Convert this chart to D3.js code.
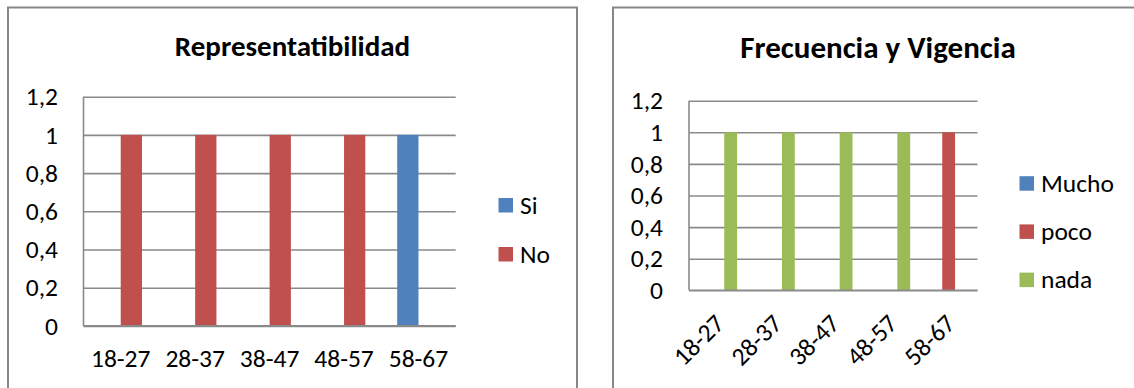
<!DOCTYPE html>
<html>
<head>
<meta charset="utf-8">
<script src="https://cdn.jsdelivr.net/npm/d3@7"></script>
<style>
  html, body { margin: 0; padding: 0; background: #fff; }
  svg { display: block; }
  text { font-family: Carlito, Lato, sans-serif; fill: #000; }
</style>
</head>
<body>
<svg id="chart" width="1134" height="388"></svg>
<script>
// Age groups shared by both charts
const categories = ["18-27", "28-37", "38-47", "48-57", "58-67"];

// Representatibilidad
const repSeries = ["Si", "No"];
const repSi = [0, 0, 0, 0, 1];
const repNo = [1, 1, 1, 1, 0];

// Frecuencia y Vigencia
const freqSeries = ["Mucho", "poco", "nada"];
const freqMucho = [0, 0, 0, 0, 0];
const freqPoco = [0, 0, 0, 0, 1];
const freqNada = [1, 1, 1, 1, 0];

// Value axis
const yTicks = [0, 0.2, 0.4, 0.6, 0.8, 1, 1.2];
const yTickLabels = ["0", "0,2", "0,4", "0,6", "0,8", "1", "1,2"];

const colors = ["#4F81BD", "#C0504D", "#9BBB59"];
const gridColor = "#8a8a8a";

const svg = d3.select("#chart");

function drawChart(cfg) {
  const g = svg.append("g");

  // outer frame
  g.append("rect")
    .attr("x", cfg.frame[0]).attr("y", cfg.frame[1])
    .attr("width", cfg.frame[2]).attr("height", cfg.frame[3])
    .attr("fill", "#fff").attr("stroke", "#878787").attr("stroke-width", 2);

  // title
  g.append("text")
    .attr("x", cfg.titleX).attr("y", cfg.titleY)
    .attr("text-anchor", "middle")
    .style("font-size", cfg.titleSize + "px")
    .style("font-weight", "bold")
    .text(cfg.title);

  const x = d3.scaleBand().domain(categories).range([cfg.x0, cfg.x1]).padding(0);
  const y = d3.scaleLinear().domain([0, 1.2]).range([cfg.yBottom, cfg.yTop]);

  // series positions inside each category: gap width 150% of a bar
  const n = cfg.series.length;
  const groupW = x.bandwidth() * n / (n + 1.5);
  const xs = d3.scaleBand().domain(cfg.series)
    .range([(x.bandwidth() - groupW) / 2, (x.bandwidth() + groupW) / 2]).padding(0);

  // gridlines + value labels via a left axis
  const yAxis = d3.axisLeft(y)
    .tickValues(yTicks)
    .tickSize(-(cfg.x1 - cfg.x0))
    .tickPadding(cfg.x0 - cfg.labelRight)
    .tickFormat((d, i) => yTickLabels[i]);
  const ya = g.append("g").attr("transform", `translate(${cfg.x0},0)`).call(yAxis);
  ya.select(".domain").remove();
  ya.selectAll(".tick line").attr("stroke", gridColor).attr("stroke-width", 1.6);
  ya.selectAll(".tick text")
    .style("font-size", cfg.textSize + "px")
    .attr("fill", "#000");

  // vertical axis line
  g.append("line")
    .attr("x1", cfg.x0).attr("x2", cfg.x0)
    .attr("y1", y(1.2)).attr("y2", y(0))
    .attr("stroke", gridColor).attr("stroke-width", 1.6);

  // bars
  const rows = [];
  categories.forEach((c, ci) => {
    cfg.series.forEach((s, si) => {
      rows.push({ cat: c, key: s, value: cfg.values[si][ci], color: colors[si] });
    });
  });
  g.append("g").selectAll("rect")
    .data(rows.filter(d => d.value > 0))
    .join("rect")
    .attr("x", d => x(d.cat) + xs(d.key))
    .attr("width", xs.bandwidth())
    .attr("y", d => y(d.value))
    .attr("height", d => y(0) - y(d.value))
    .attr("fill", d => d.color);

  // redraw the zero line over the bars
  g.append("line")
    .attr("x1", cfg.x0).attr("x2", cfg.x1)
    .attr("y1", y(0)).attr("y2", y(0))
    .attr("stroke", gridColor).attr("stroke-width", 1.6);

  // category labels
  const cl = g.append("g").selectAll("text")
    .data(categories)
    .join("text")
    .style("font-size", cfg.textSize + "px")
    .text(d => d);
  if (cfg.rotate) {
    cl.attr("text-anchor", "end")
      .attr("transform", d =>
        `translate(${x(d) + x.bandwidth() / 2 + cfg.catDx},${cfg.catY}) rotate(-45)`);
  } else {
    cl.attr("text-anchor", "middle")
      .attr("x", d => x(d) + x.bandwidth() / 2)
      .attr("y", cfg.catY);
  }

  // legend
  const lg = g.append("g").selectAll("g")
    .data(cfg.series)
    .join("g")
    .attr("transform", (d, i) => `translate(${cfg.legendX},${cfg.legendY + i * cfg.legendStep})`);
  lg.append("rect")
    .attr("x", 0).attr("y", -cfg.legendBox)
    .attr("width", cfg.legendBox).attr("height", cfg.legendBox)
    .attr("fill", (d, i) => colors[i]);
  lg.append("text")
    .attr("x", cfg.legendBox + 7).attr("y", 1)
    .style("font-size", cfg.textSize + "px")
    .text(d => d);
}

drawChart({
  frame: [8, 7.5, 569, 400],
  title: "Representatibilidad", titleX: 292.5, titleY: 56, titleSize: 29,
  x0: 83.5, x1: 455.7, yTop: 96.7, yBottom: 325.9,
  labelRight: 58, textSize: 25.5, catY: 367, rotate: false,
  series: repSeries, values: [repSi, repNo],
  legendX: 498.5, legendY: 212.5, legendStep: 49, legendBox: 14.5
});

drawChart({
  frame: [613, 7.5, 540, 400],
  title: "Frecuencia y Vigencia", titleX: 878, titleY: 58, titleSize: 31,
  x0: 689, x1: 977.5, yTop: 100.7, yBottom: 290.3,
  labelRight: 663, textSize: 25.5, catY: 325, catDx: 8, rotate: true,
  series: freqSeries, values: [freqMucho, freqPoco, freqNada],
  legendX: 1019.5, legendY: 190.7, legendStep: 48.2, legendBox: 14.5
});
</script>
</body>
</html>
